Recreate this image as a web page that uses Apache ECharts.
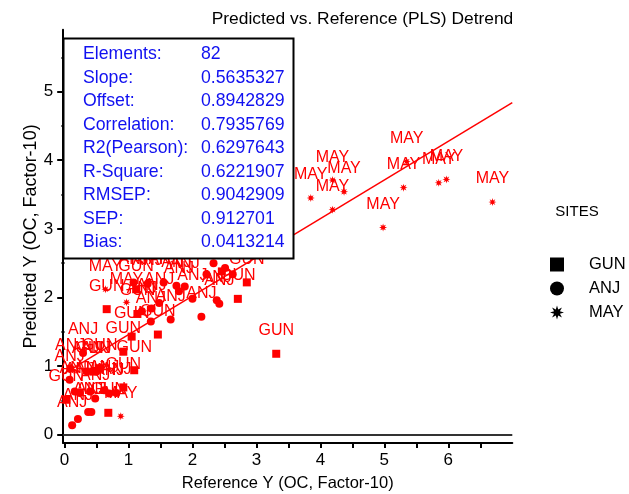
<!DOCTYPE html>
<html><head><meta charset="utf-8">
<script src="https://cdn.jsdelivr.net/npm/echarts@6/dist/echarts.min.js"></script>
<style>html,body{margin:0;padding:0;background:#fff}#c{width:629px;height:494px}</style>
</head><body><div id="c"></div>
<script>
// ---- data ----
const titleText = 'Predicted vs. Reference (PLS) Detrend';
const xName = 'Reference Y (OC, Factor-10)';
const yName = 'Predicted Y (OC, Factor-10)';
const xTickLabels = [0, 1, 2, 3, 4, 5, 6];
const yTickLabels = [0, 1, 2, 3, 4, 5];
const siteNames = ['GUN', 'ANJ', 'MAY'];
const gunX = [0.66, 1.14, 1.46, 1.05, 0.92, 1.09, 0.55, 0.92, 0.685, 3.31, 2.85, 2.71, 2.46, 0.03, 1.12, 0.45];
const gunY = [1.83, 1.76, 1.46, 1.43, 1.21, 0.94, 0.97, 0.69, 0.32, 1.18, 2.22, 1.98, 2.38, 0.51, 2.12, 0.92];
const anjX = [0.12, 0.21, 0.37, 0.42, 0.48, 0.81, 0.29, 1.35, 1.66, 2.14, 1.48, 2.00, 2.38, 2.42, 1.75, 1.79, 1.88, 2.22, 2.51, 2.63, 2.33, 0.09, 0.24, 0.16, 0.50, 1.08, 1.36, 1.21, 0.08, 0.35, 0.62, 0.70, 1.30, 1.55, 0.40];
const anjY = [0.14, 0.23, 0.33, 0.33, 0.53, 0.61, 1.19, 1.65, 1.68, 1.72, 1.92, 1.98, 1.96, 1.91, 2.17, 2.09, 2.16, 2.34, 2.43, 2.34, 2.50, 0.97, 0.61, 0.63, 0.92, 2.22, 1.84, 1.80, 0.80, 0.92, 0.65, 0.60, 2.20, 2.22, 0.63];
const mayX = [3.85, 4.19, 4.19, 4.37, 4.98, 5.30, 5.35, 5.85, 5.97, 6.69, 0.64, 0.97, 0.88];
const mayY = [3.45, 3.28, 3.71, 3.54, 3.02, 3.60, 3.98, 3.67, 3.72, 3.39, 2.12, 1.93, 0.27];
const statNames = ['Elements:', 'Slope:', 'Offset:', 'Correlation:', 'R2(Pearson):', 'R-Square:', 'RMSEP:', 'SEP:', 'Bias:'];
const statValues = ['82', '0.5635327', '0.8942829', '0.7935769', '0.6297643', '0.6221907', '0.9042909', '0.912701', '0.0413214'];
const slope = 0.5635327;
const offset = 0.8942829;

// ---- styling ----
const RED = '#ff0000';
const FONT = 'Liberation Sans, Arial, sans-serif';
const X_MIN = -0.02, X_MAX = 7, Y_MIN = -0.12, Y_MAX = 5.9;

function starPath() {
  let d = '';
  for (let k = 0; k < 16; k++) {
    const a = k * Math.PI / 8 - Math.PI / 2;
    const r = (k % 2) ? 4.5 : 10;
    const x = (10 + r * Math.cos(a)).toFixed(2), y = (10 + r * Math.sin(a)).toFixed(2);
    d += (k === 0 ? 'M' : 'L') + x + ' ' + y + ' ';
  }
  return 'path://' + d + 'Z';
}
const STAR = starPath();

function pairs(xs, ys) { return xs.map((x, i) => [x, ys[i]]); }
const halves = (max) => { const a = []; for (let v = 0; v <= max + 1e-9; v += 0.5) a.push(+v.toFixed(1)); return a; };

function scatter(name, xs, ys, symbol, size) {
  return {
    name, type: 'scatter', data: pairs(xs, ys), symbol, symbolSize: size,
    itemStyle: { color: RED, opacity: 1 },
    label: { show: true, formatter: name, position: 'inside', offset: [0, -23],
      color: RED, fontSize: 16, fontFamily: FONT },
    emphasis: { disabled: true }, z: 3
  };
}

const chart = echarts.init(document.getElementById('c'), null, { renderer: 'canvas' });
const statGraphics = [{
  type: 'rect', shape: { x: 63.5, y: 38.5, width: 230, height: 220 },
  style: { fill: '#fff', stroke: '#000', lineWidth: 2 }, z: 100
}];
statNames.forEach((n, i) => {
  const yy = 54.5 + i * 23.5;
  statGraphics.push({ type: 'text', x: 83, y: yy, z: 101,
    style: { text: n, fill: '#1010f0', font: '17.7px ' + FONT, textVerticalAlign: 'middle' } });
  statGraphics.push({ type: 'text', x: 201, y: yy, z: 101,
    style: { text: statValues[i], fill: '#1010f0', font: '17.7px ' + FONT, textVerticalAlign: 'middle' } });
});
statGraphics.push({ type: 'text', x: 577, y: 212, z: 101,
  style: { text: 'SITES', fill: '#000', font: '15px ' + FONT, textAlign: 'center', textVerticalAlign: 'middle' } });
statGraphics.push({ type: 'text', x: 362.5, y: 19, z: 101,
  style: { text: titleText, fill: '#000', font: '17.4px ' + FONT, textAlign: 'center', textVerticalAlign: 'middle' } });

chart.setOption({
  animation: false,
  backgroundColor: '#fff',
  textStyle: { fontFamily: FONT },
  grid: { left: 63.2, right: 116.7, top: 29.8, bottom: 51, containLabel: false, outerBoundsMode: 'none' },
  xAxis: {
    type: 'value', min: X_MIN, max: X_MAX,
    name: xName, nameLocation: 'middle', nameGap: 32, nameMoveOverlap: false,
    nameTextStyle: { fontSize: 16.5, color: '#000', fontFamily: FONT },
    axisLine: { show: true, onZero: false, lineStyle: { color: '#000', width: 2 } },
    axisTick: { show: true, inside: false, length: 5, customValues: halves(6.5), lineStyle: { color: '#000', width: 2 } },
    axisLabel: { customValues: xTickLabels, fontSize: 17, color: '#000', margin: 9, fontFamily: FONT },
    splitLine: { show: false }
  },
  yAxis: [{
    type: 'value', min: Y_MIN, max: Y_MAX,
    name: yName, nameLocation: 'middle', nameGap: 23, nameRotate: 90, nameMoveOverlap: false,
    nameTextStyle: { fontSize: 18, color: '#000', fontFamily: FONT },
    axisLine: { show: true, onZero: false, lineStyle: { color: '#000', width: 2 } },
    axisTick: { show: true, length: 6, customValues: yTickLabels, lineStyle: { color: '#000', width: 2 } },
    axisLabel: { customValues: yTickLabels, fontSize: 17, color: '#000', margin: 10, fontFamily: FONT, padding: [3, 0, 0, 0] },
    splitLine: { show: false }
  }, {
    type: 'value', min: Y_MIN, max: Y_MAX, position: 'left',
    axisLine: { show: false },
    axisTick: { show: true, length: 3, customValues: [0.5, 1.5, 2.5, 3.5, 4.5, 5.5], lineStyle: { color: '#000', width: 2 } },
    axisLabel: { show: false }, splitLine: { show: false }
  }],
  legend: {
    orient: 'vertical', left: 545, top: 251, itemGap: 7, itemWidth: 14, itemHeight: 14,
    data: [
      { name: 'GUN', icon: 'rect', itemStyle: { color: '#000' } },
      { name: 'ANJ', icon: 'circle', itemStyle: { color: '#000' } },
      { name: 'MAY', icon: STAR, itemStyle: { color: '#000' } }
    ],
    textStyle: { fontSize: 16.5, color: '#000', fontFamily: FONT, padding: [0, 0, 0, 20] },
    selectedMode: false
  },
  graphic: statGraphics,
  series: [
    {
      name: 'fit', type: 'line', silent: true, symbol: 'none', z: 2,
      data: [[X_MIN, offset + slope * X_MIN], [X_MAX, offset + slope * X_MAX]],
      lineStyle: { color: RED, width: 1.5 },
      markLine: { silent: true, symbol: 'none', label: { show: false },
        lineStyle: { color: '#333', width: 2, type: 'solid' }, data: [{ yAxis: 0 }] }
    },
    scatter('GUN', gunX, gunY, 'rect', 8),
    scatter('ANJ', anjX, anjY, 'circle', 8),
    scatter('MAY', mayX, mayY, STAR, 8)
  ]
});
</script>
</body></html>
